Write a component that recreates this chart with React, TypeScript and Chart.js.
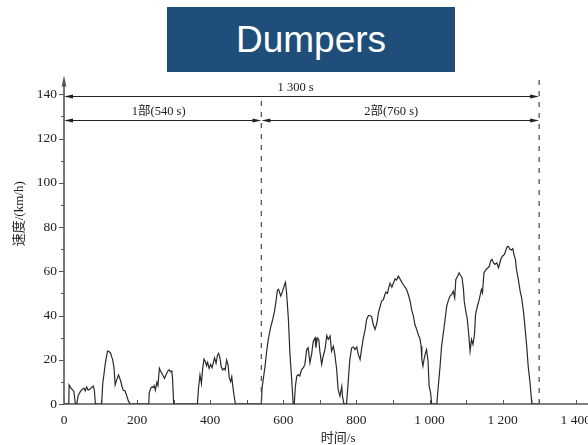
import React, { useEffect, useRef } from 'react';
import { Chart, registerables } from 'chart.js';

Chart.register(...registerables);

// Speed trace, part 1 of the dumper cycle (0–540 s)
const part1Time = [
  0, 13, 14, 18, 24, 27, 31, 35, 39, 46, 51, 55, 58, 62, 66, 71, 77, 80, 83, 86,
  103, 106, 109, 113, 117, 119, 124, 128, 130, 133, 137, 140, 144, 149, 151, 155, 159, 162, 167, 171, 176, 181,
  232, 233, 237, 241, 244, 247, 250, 254, 257, 261, 264, 270, 275, 279, 284, 288, 292, 295, 297, 300,
  365, 368, 372, 376, 379, 383, 387, 390, 393, 397, 401, 405, 409, 412, 416, 420, 423, 427, 430, 434, 438, 441,
  445, 449, 452, 456, 459, 461, 465, 469, 540,
];
const part1Speed = [
  0, 0, 8.6, 7.4, 6.3, 5.6, 0.3, 0, 4, 5.9, 6.8, 7.1, 5.9, 7.7, 6.3, 6.8, 7.7, 8.1, 6.3, 0,
  0, 9.3, 13, 18.4, 22.1, 23.9, 23.6, 22.9, 21.4, 20.3, 16.1, 8.6, 10.8, 13.1, 12.3, 10.4, 7.8, 6.3, 5.9, 4.1, 1.4, 0,
  0, 4.8, 7.1, 7.8, 7.4, 8.3, 6.3, 9.8, 8.3, 16.1, 14.9, 13.1, 11.6, 13.1, 14.9, 15.4, 14.6, 14.9, 11.6, 0,
  0, 7.1, 13.1, 9.3, 15.4, 20.3, 19.1, 17.3, 18.8, 16.1, 17.9, 16.4, 19.1, 20.9, 18.4, 22.1, 22.9, 20.6, 16.9, 15.4, 16.1, 15.4,
  19.9, 17.6, 11.9, 10.1, 12.3, 9.3, 4.1, 0, 0,
];

// Speed trace, part 2 (540–1300 s)
const part2Time = [
  541, 542, 545, 550, 555, 559, 565, 571, 576, 580, 584, 587, 593, 598, 603, 606, 609, 614, 618, 623, 627,
  630, 633, 637, 641, 645, 650, 655, 659, 664, 668, 673, 678, 682, 687, 689, 693, 697, 700, 705, 709, 714,
  719, 723, 728, 732, 737, 741, 746, 750, 755, 760, 762, 766,
  773, 778, 782, 787, 792, 796, 801, 805, 810, 814, 819, 824, 828, 833, 837, 842, 846, 851, 856, 860, 865,
  869, 874, 878, 881, 885, 888, 892, 897, 901, 906, 910, 915, 919, 924, 928, 933, 937, 942, 947, 951, 956,
  960, 965, 969, 974, 977, 979, 982, 985, 989, 992, 996, 999, 1003, 1006,
  1020, 1024, 1029, 1033, 1038, 1042, 1047, 1051, 1056, 1061, 1065, 1069, 1072, 1076, 1081, 1085, 1089,
  1093, 1095, 1100, 1103, 1107, 1111, 1115, 1119, 1123, 1126, 1131, 1136, 1142, 1145, 1149, 1155, 1160,
  1164, 1167, 1171, 1175, 1179, 1184, 1189, 1195, 1200, 1205, 1209, 1213, 1217, 1220, 1224, 1228, 1231,
  1235, 1238, 1243, 1248, 1252, 1257, 1261, 1266, 1270, 1275, 1279, 1280, 1300,
];
const part2Speed = [
  0, 7.4, 11, 17, 24.6, 29.2, 34.4, 38.2, 42, 46.5, 51.5, 51.8, 48.8, 51, 53.6, 55, 50.3, 38.2, 23.1, 11, 0,
  0, 8, 12.6, 13.3, 12.6, 15.6, 16.4, 17.9, 24.6, 25.4, 18.6, 23.1, 28.4, 29.9, 25.4, 29.9, 29.2, 23.9, 17.9, 21.6, 24.6,
  31, 29.2, 30.7, 23.9, 26.1, 22.4, 15.6, 6.6, 3.6, 8, 3.4, 0,
  0, 11, 20.1, 25.4, 25.8, 24.6, 25.8, 22.4, 20.1, 24.6, 29.9, 33.7, 38.2, 40, 40, 39.4, 35.9, 33.7, 36.5, 41, 44.2,
  46.5, 47.2, 49.5, 50.6, 50, 52.3, 54.6, 52.8, 54.6, 56.6, 56, 57.8, 56.6, 55.1, 54, 52.8, 51.9, 49.5, 46.5, 42.7, 39.7,
  35.9, 33.7, 31.4, 29.5, 26.1, 20.1, 17.1, 20.1, 23.1, 24.6, 19.4, 8, 5.1, 0,
  0, 8, 17.1, 26.1, 32.2, 37.4, 44.2, 46.5, 48.8, 49.5, 51, 48, 56.3, 57.5, 59.3, 58.1, 57.1,
  51.8, 46.5, 41.2, 39, 32.2, 23.9, 29.2, 26.9, 31.4, 40.5, 44.2, 47.2, 51.8, 50.3, 59.3, 60.8, 61.6,
  62.3, 64.6, 65.4, 63.8, 63.1, 63.8, 61.6, 65.4, 66.9, 67.6, 69.6, 71.3, 71, 69.9, 69.6, 70.2, 67.6,
  65.4, 60.8, 56.3, 51, 48, 42, 35.2, 26.1, 17.1, 9.6, 2, 0, 0,
];

// Phase boundaries (s) and their labels
const phaseBounds = [0, 540, 1300];
const phaseLabels = ['1部(540 s)', '2部(760 s)'];
const totalLabel = '1 300 s';

// Axis ranges and tick steps
const xMax = 1400;
const xStep = 200;
const xMinorStep = 100;
const yMax = 148.5;
const yLabelMax = 140;
const yStep = 20;
const yMinorStep = 10;

const chartTitle = 'Dumpers';
const xTitle = '时间/s';
const yTitle = '速度/(km/h)';

const INK = '#222';
const AXIS = '#555';
const SERIF = "'Liberation Serif', 'Noto Sans CJK SC', serif";

const formatTime = (v: number) =>
  v >= 1000 ? `${Math.floor(v / 1000)} ${String(v % 1000).padStart(3, '0')}` : String(v);

function arrowHead(ctx: CanvasRenderingContext2D, tipX: number, tipY: number, dir: number) {
  ctx.beginPath();
  ctx.moveTo(tipX, tipY);
  ctx.lineTo(tipX - dir * 9, tipY - 2);
  ctx.lineTo(tipX - dir * 9, tipY + 2);
  ctx.closePath();
  ctx.fill();
}

function dimension(ctx: CanvasRenderingContext2D, x1: number, x2: number, py: number) {
  ctx.beginPath();
  ctx.moveTo(x1 + 4, py);
  ctx.lineTo(x2 - 4, py);
  ctx.stroke();
  arrowHead(ctx, x1, py, -1);
  arrowHead(ctx, x2, py, 1);
}

const decorations = {
  id: 'decorations',
  beforeDatasetsDraw(chart: any) {
    const { ctx, chartArea, scales } = chart;
    const x = scales.x;
    const y = scales.y;
    const x0 = x.getPixelForValue(0);
    const y0 = y.getPixelForValue(0);
    ctx.save();
    ctx.strokeStyle = AXIS;
    ctx.fillStyle = AXIS;
    ctx.lineWidth = 1.6;
    // vertical axis with arrow tip
    ctx.beginPath();
    ctx.moveTo(x0, y0);
    ctx.lineTo(x0, chartArea.top + 6);
    ctx.stroke();
    ctx.beginPath();
    ctx.moveTo(x0, chartArea.top);
    ctx.lineTo(x0 - 2.4, chartArea.top + 11);
    ctx.lineTo(x0 + 2.4, chartArea.top + 11);
    ctx.closePath();
    ctx.fill();
    // horizontal axis
    ctx.beginPath();
    ctx.moveTo(x0, y0);
    ctx.lineTo(chart.width, y0);
    ctx.stroke();
    // tick marks
    ctx.lineWidth = 1;
    for (let v = 0; v <= yLabelMax; v += yMinorStep) {
      const py = Math.round(y.getPixelForValue(v)) + 0.5;
      const len = v % yStep === 0 ? 5 : 3;
      ctx.beginPath();
      ctx.moveTo(x0 - len, py);
      ctx.lineTo(x0, py);
      ctx.stroke();
    }
    for (let t = xMinorStep; t <= xMax; t += xMinorStep) {
      const px = Math.round(x.getPixelForValue(t)) + 0.5;
      ctx.beginPath();
      ctx.moveTo(px, y0);
      ctx.lineTo(px, y0 - 4);
      ctx.stroke();
    }
    ctx.restore();
  },
  afterDatasetsDraw(chart: any) {
    const { ctx, scales } = chart;
    const x = scales.x;
    const y = scales.y;
    const y0 = y.getPixelForValue(0);
    const px = phaseBounds.map((t) => x.getPixelForValue(t));
    ctx.save();
    // phase boundary dashed lines
    ctx.strokeStyle = AXIS;
    ctx.lineWidth = 1.3;
    ctx.setLineDash([5, 6]);
    ctx.beginPath();
    ctx.moveTo(px[1], y.getPixelForValue(137));
    ctx.lineTo(px[1], y0);
    ctx.moveTo(px[2], y.getPixelForValue(146.5));
    ctx.lineTo(px[2], y0);
    ctx.stroke();
    ctx.setLineDash([]);
    // dimension arrows
    ctx.strokeStyle = INK;
    ctx.fillStyle = INK;
    ctx.lineWidth = 1;
    const yTotal = Math.round(y.getPixelForValue(139.4)) + 0.5;
    const yPart = Math.round(y.getPixelForValue(128.4)) + 0.5;
    dimension(ctx, px[0], px[2], yTotal);
    dimension(ctx, px[0], px[1], yPart);
    dimension(ctx, px[1], px[2], yPart);
    // labels above arrows
    ctx.font = `12.5px ${SERIF}`;
    ctx.textAlign = 'center';
    ctx.textBaseline = 'middle';
    ctx.fillText(totalLabel, (px[0] + px[2]) / 2 - 6, yTotal - 9);
    ctx.fillText(phaseLabels[0], (px[0] + px[1]) / 2 - 4, yPart - 8.5);
    ctx.fillText(phaseLabels[1], (px[1] + px[2]) / 2 - 9, yPart - 8.5);
    // axis titles
    ctx.font = `13px ${SERIF}`;
    ctx.fillText(xTitle, x.getPixelForValue(750), y0 + 35);
    ctx.translate(20, y.getPixelForValue(86));
    ctx.rotate(-Math.PI / 2);
    ctx.fillText(yTitle, 0, 0);
    ctx.restore();
  },
};

export default function App() {
  const canvasRef = useRef<HTMLCanvasElement>(null);

  useEffect(() => {
    const points = [
      ...part1Time.map((t, i) => ({ x: t, y: part1Speed[i] })),
      ...part2Time.map((t, i) => ({ x: t, y: part2Speed[i] })),
    ];
    const chart = new Chart(canvasRef.current as HTMLCanvasElement, {
      type: 'line',
      data: {
        datasets: [
          {
            data: points,
            borderColor: '#2a2a2a',
            borderWidth: 1.2,
            pointRadius: 0,
            tension: 0,
            fill: false,
          },
        ],
      },
      options: {
        animation: false,
        responsive: true,
        maintainAspectRatio: false,
        layout: { padding: { left: 0, top: 75.5, right: 44.3, bottom: 0 } },
        plugins: {
          legend: { display: false },
          tooltip: { enabled: false },
          title: { display: false },
        },
        scales: {
          x: {
            type: 'linear',
            min: 0,
            max: xMax,
            afterFit: (s: any) => {
              s.height = 41;
            },
            grid: { display: false, drawTicks: false },
            border: { display: false },
            ticks: {
              stepSize: xStep,
              padding: 8,
              autoSkip: false,
              maxRotation: 0,
              color: INK,
              font: { family: SERIF, size: 13.5 },
              callback: (v: any) => formatTime(Number(v)),
            },
          },
          y: {
            type: 'linear',
            min: 0,
            max: yMax,
            afterFit: (s: any) => {
              s.width = 64;
            },
            grid: { display: false, drawTicks: false },
            border: { display: false },
            ticks: {
              stepSize: yStep,
              includeBounds: false,
              padding: 7,
              color: INK,
              font: { family: SERIF, size: 13.5 },
            },
          },
        },
      },
      plugins: [decorations],
    });
    return () => chart.destroy();
  }, []);

  return (
    <div style={{ position: 'absolute', left: 0, top: 0, width: 588, height: 445, overflow: 'hidden', background: '#fff' }}>
      <div style={{ position: 'absolute', left: 0, top: 0, width: 620, height: 445 }}>
        <canvas ref={canvasRef} />
      </div>
      <div
        style={{
          position: 'absolute',
          left: 167,
          top: 7,
          width: 288,
          height: 65,
          background: '#1f4e7a',
          color: '#fff',
          display: 'flex',
          alignItems: 'center',
          justifyContent: 'center',
          fontFamily: "'Liberation Sans', Arial, sans-serif",
          fontSize: 37,
        }}
      >
        {chartTitle}
      </div>
    </div>
  );
}
